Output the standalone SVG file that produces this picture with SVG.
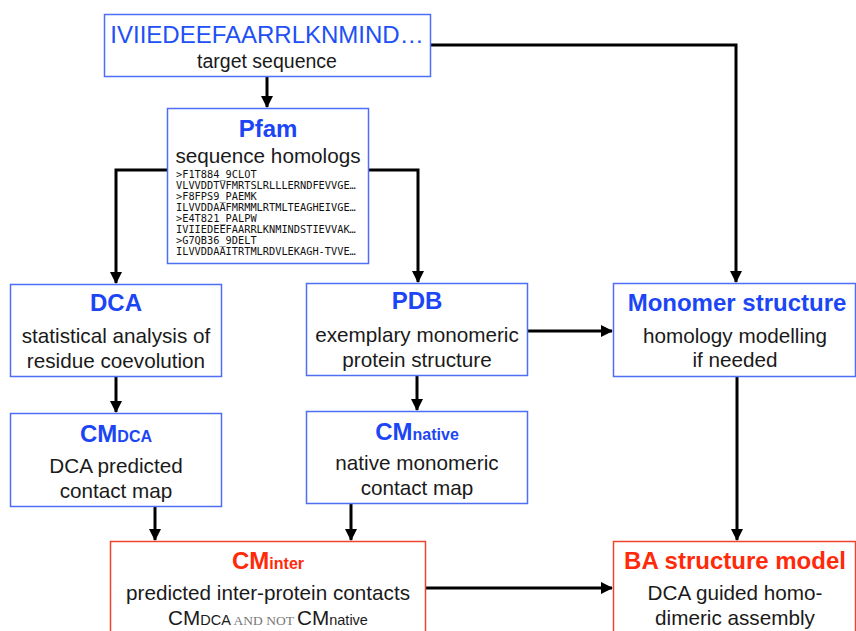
<svg xmlns="http://www.w3.org/2000/svg" width="856" height="631" viewBox="0 0 856 631">
<defs>
<marker id="ah" viewBox="0 0 12 12" refX="11" refY="6" markerWidth="12" markerHeight="12" markerUnits="userSpaceOnUse" orient="auto">
<path d="M0,0 L12,6 L0,12 Z" fill="#000"/>
</marker>
<style>
.bb{fill:#fff;stroke:#4d6ef5;stroke-width:1.5}
.rb{fill:#fff;stroke:#f0442e;stroke-width:1.5}
.t{font-family:"Liberation Sans",Arial,sans-serif;text-anchor:middle}
.hb{font-weight:bold;font-size:24px;fill:#1b45f5}
.hr{font-weight:bold;font-size:24px;fill:#ff2a0a}
.b{font-size:20.7px;fill:#1a1a1a}
.m{font-family:"DejaVu Sans Mono","Liberation Mono",monospace;font-size:10.3px;fill:#111}
.c{fill:none;stroke:#000;stroke-width:3;marker-end:url(#ah)}
</style>
</defs>
<g id="connectors">
<path class="c" d="M267,76 V107"/>
<path class="c" d="M430,45 H736 V282"/>
<path class="c" d="M167,170 H116 V283"/>
<path class="c" d="M369,170 H418 V282"/>
<path class="c" d="M527,331 H612"/>
<path class="c" d="M116,377 V412"/>
<path class="c" d="M417,376 V410"/>
<path class="c" d="M737,377 V540"/>
<path class="c" d="M155,507 V540"/>
<path class="c" d="M351,504 V540"/>
<path class="c" d="M425,588 H612"/>
</g>
<g id="target">
<rect class="bb" x="104.5" y="14.5" width="326" height="62"/>
<text class="t" x="267" y="43" style="font-size:24px;fill:#2050f5">IVIIEDEEFAARRLKNMIND…</text>
<text class="t b" x="267" y="68" style="font-size:19.5px">target sequence</text>
</g>
<g id="pfam">
<rect class="bb" x="167.5" y="108.5" width="201" height="155"/>
<text class="t hb" x="268" y="137">Pfam</text>
<text class="t b" x="268" y="163">sequence homologs</text>
<text class="m" x="176" y="177.5">&gt;F1T884_9CLOT</text>
<text class="m" x="176" y="188.5">VLVVDDTVFMRTSLRLLLERNDFEVVGE…</text>
<text class="m" x="176" y="199.5">&gt;F8FPS9_PAEMK</text>
<text class="m" x="176" y="210.5">ILVVDDAAFMRMMLRTMLTEAGHEIVGE…</text>
<text class="m" x="176" y="221.5">&gt;E4T821_PALPW</text>
<text class="m" x="176" y="232.5">IVIIEDEEFAARRLKNMINDSTIEVVAK…</text>
<text class="m" x="176" y="243.5">&gt;G7QB36_9DELT</text>
<text class="m" x="176" y="254.5">ILVVDDAAITRTMLRDVLEKAGH-TVVE…</text>
</g>
<g id="dca">
<rect class="bb" x="10.5" y="284.5" width="211" height="92"/>
<text class="t hb" x="116" y="311">DCA</text>
<text class="t b" x="116" y="343">statistical analysis of</text>
<text class="t b" x="116" y="368">residue coevolution</text>
</g>
<g id="pdb">
<rect class="bb" x="306.5" y="283.5" width="221" height="92"/>
<text class="t hb" x="417" y="309">PDB</text>
<text class="t b" x="417" y="342">exemplary monomeric</text>
<text class="t b" x="417" y="367">protein structure</text>
</g>
<g id="monomer">
<rect class="bb" x="613.5" y="283.5" width="242" height="93"/>
<text class="t hb" x="737" y="311">Monomer structure</text>
<text class="t b" x="735" y="343">homology modelling</text>
<text class="t b" x="735" y="367">if needed</text>
</g>
<g id="cmdca">
<rect class="bb" x="10.5" y="413.5" width="211" height="93"/>
<text class="t hb" x="116" y="442">CM<tspan style="font-size:16px">DCA</tspan></text>
<text class="t b" x="116" y="473">DCA predicted</text>
<text class="t b" x="116" y="498">contact map</text>
</g>
<g id="cmnative">
<rect class="bb" x="306.5" y="411.5" width="221" height="92"/>
<text class="t hb" x="417" y="440">CM<tspan style="font-size:16px">native</tspan></text>
<text class="t b" x="417" y="470">native monomeric</text>
<text class="t b" x="417" y="495">contact map</text>
</g>
<g id="cminter">
<rect class="rb" x="110.5" y="541.5" width="315" height="95"/>
<text class="t hr" x="268" y="569">CM<tspan style="font-size:16px">inter</tspan></text>
<text class="t b" x="268" y="600">predicted inter-protein contacts</text>
<text class="t b" x="268" y="625">CM<tspan style="font-size:14.5px">DCA</tspan><tspan style="font-family:'Liberation Serif',serif;font-size:13.5px;fill:#777"> AND NOT </tspan>CM<tspan style="font-size:14.5px">native</tspan></text>
</g>
<g id="ba">
<rect class="rb" x="613.5" y="541.5" width="242" height="95"/>
<text class="t hr" x="735" y="569">BA structure model</text>
<text class="t b" x="735" y="600">DCA guided homo-</text>
<text class="t b" x="735" y="625">dimeric assembly</text>
</g>
</svg>
